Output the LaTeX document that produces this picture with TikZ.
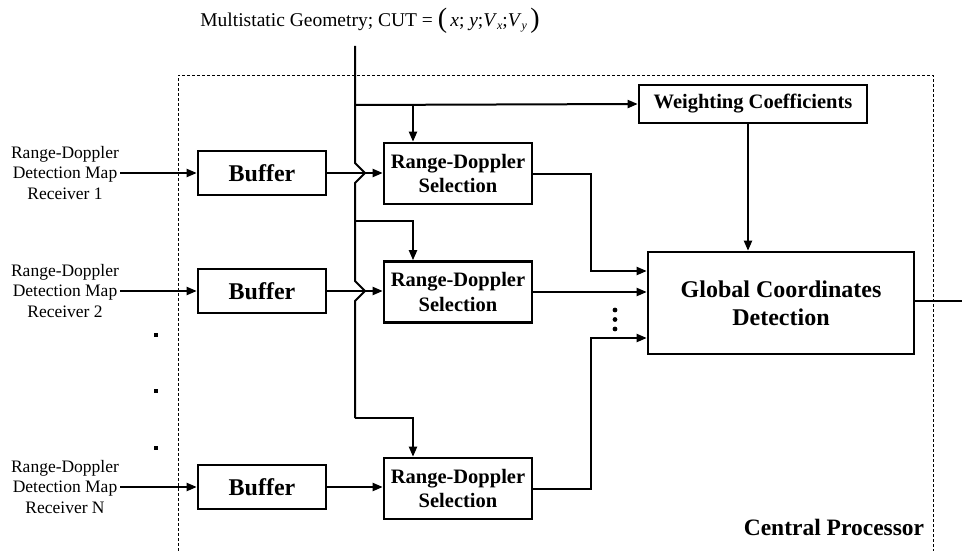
\documentclass[tikz,border=0pt]{standalone}
\usepackage{fontspec}
\setmainfont{Liberation Serif}
\usetikzlibrary{arrows.meta}
\newcommand{\subit}[1]{\raisebox{-0.35ex}{\fontsize{12}{12}\selectfont\itshape #1}}
\begin{document}
\begin{tikzpicture}[x=1pt,y=-1pt,
  wire/.style={line width=2pt},
  arr/.style={wire,-{Triangle[length=10pt,width=8pt]}},
  bufbox/.style={draw,line width=2.6pt,minimum width=128pt,minimum height=44pt,inner sep=0pt,
    font=\bfseries\fontsize{24}{26}\selectfont},
  rdbox/.style={draw,line width=2.6pt,minimum width=148pt,minimum height=61pt,inner sep=0pt,align=center,
    font=\bfseries\fontsize{20.5}{24.5}\selectfont},
  wcbox/.style={draw,line width=2.6pt,minimum width=228pt,minimum height=38pt,inner sep=0pt,
    font=\bfseries\fontsize{20.5}{22}\selectfont},
  gcdbox/.style={draw,line width=2.6pt,minimum width=266pt,minimum height=102pt,inner sep=0pt,align=center,
    font=\bfseries\fontsize{24}{28}\selectfont},
  inlabel/.style={align=center,inner sep=1pt,font=\fontsize{17.5}{20.5}\selectfont},
  frame/.style={dashed,line width=0.9pt,dash pattern=on 3pt off 2pt}
]
\useasboundingbox (0,0) rectangle (962,551);

% dashed frame
\draw[frame] (178,551) -- (178,75) -- (933,75) -- (933,551);

% title
\node[inner sep=0pt,font=\fontsize{19.5}{21}\selectfont] (title) at (370,21)
  {Multistatic Geometry; CUT = \raisebox{-0.15ex}{\fontsize{28}{28}\selectfont(}\,\textit{x}; \textit{y};\textit{V}\subit{x};\textit{V}\subit{y}\,\raisebox{-0.15ex}{\fontsize{28}{28}\selectfont)}};

% input labels
\node[inlabel] (lab1) at (65,173) {Range-Doppler\\Detection Map\\Receiver 1};
\node[inlabel] (lab2) at (65,291) {Range-Doppler\\Detection Map\\Receiver 2};
\node[inlabel] (lab3) at (65,487) {Range-Doppler\\Detection Map\\Receiver N};

% buffers
\node[bufbox] (buf1) at (262,173) {Buffer};
\node[bufbox] (buf2) at (262,291) {Buffer};
\node[bufbox] (buf3) at (262,487) {Buffer};

% range-doppler selection
\node[rdbox] (rd1) at (458,173.5) {Range-Doppler\\Selection};
\node[rdbox] (rd2) at (458,292) {Range-Doppler\\Selection};
\node[rdbox] (rd3) at (458,488.5) {Range-Doppler\\Selection};

% weighting and global detection
\node[wcbox] (wc) at (753,104) {Weighting Coefficients};
\node[gcdbox] (gcd) at (781,303) {Global Coordinates\\Detection};

\node[inner sep=0pt,font=\bfseries\fontsize{23.5}{26}\selectfont] (cp) at (834,527) {Central Processor};

% coordinates
\coordinate (bus0) at (355,46);
\coordinate (j1) at (355,105);
\coordinate (j2) at (355,221);
\coordinate (j3) at (355,418);
\coordinate (d1) at (413,105);
\coordinate (m1) at (591,271);
\coordinate (m3) at (591,338);
\coordinate (wx) at (748,0);
\coordinate (out) at (962,301);

% bus with hops
\draw[wire] (bus0) -- (j1) -- (355,163) -- (365,173) -- (355,183) -- (j2)
  -- (355,281) -- (365,291) -- (355,301) -- (j3);

% bus branches
\draw[arr] (j1) -- (wc.west);
\draw[arr] (d1) -- (d1 |- rd1.north);
\draw[arr] (j2) -- (j2 -| d1) -- (d1 |- rd2.north);
\draw[arr] (j3) -- (j3 -| d1) -- (d1 |- rd3.north);

% inputs
\draw[arr] (lab1.east) -- (buf1.west);
\draw[arr] (lab2.east) -- (buf2.west);
\draw[arr] (lab3.east) -- (buf3.west);

% buffer to selection
\draw[arr] (buf1.east) -- (buf1.east -| rd1.west);
\draw[arr] (buf2.east) -- (buf2.east -| rd2.west);
\draw[arr] (buf3.east) -- (buf3.east -| rd3.west);

% selection to global detection
\draw[arr] (rd1.east) -| (m1) -- (m1 -| gcd.west);
\draw[arr] (rd2.east) -- (rd2.east -| gcd.west);
\draw[arr] (rd3.east) -| (m3) -- (m3 -| gcd.west);

% weighting to global
\draw[arr] (wc.south -| wx) -- (gcd.north -| wx);

% output
\draw[wire] (gcd.east |- out) -- (out);

% vertical dots
\fill (615,310) circle (2.4pt) (615,319.5) circle (2.4pt) (615,329) circle (2.4pt);
% left dots
\fill (154,333) rectangle ++(4,4);
\fill (154,389) rectangle ++(4,4);
\fill (154,446) rectangle ++(4,4);
\end{tikzpicture}
\end{document}
